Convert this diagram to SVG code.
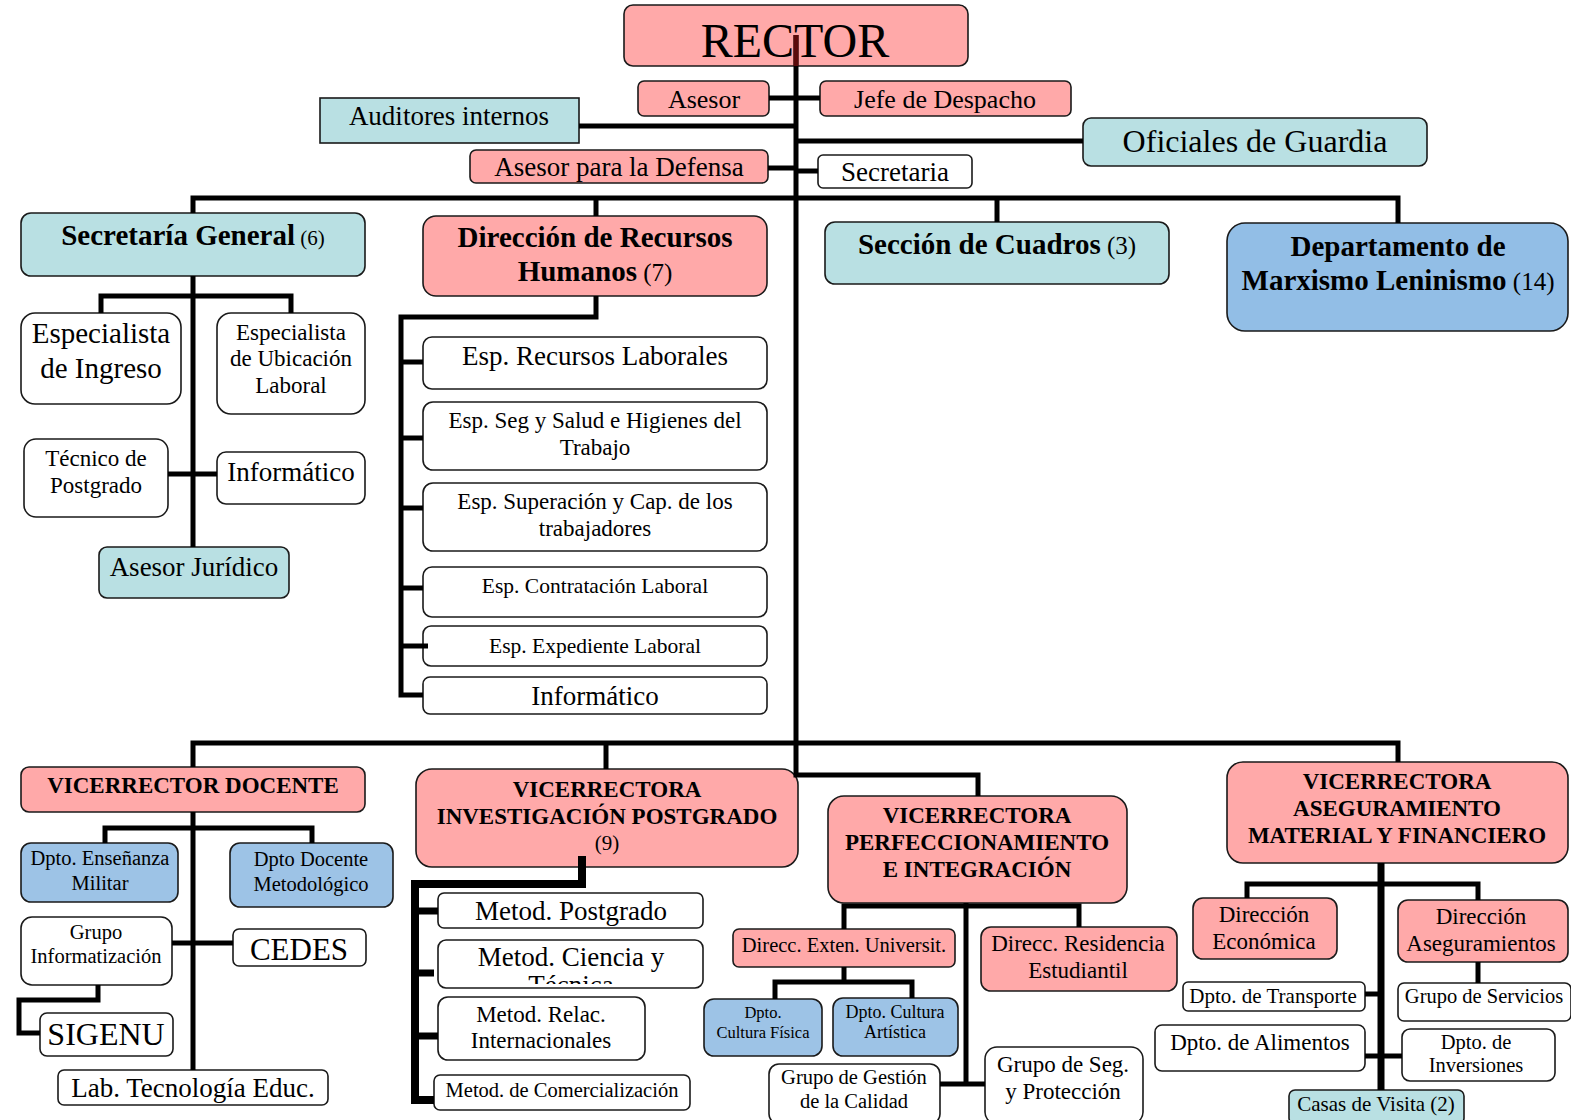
<svg xmlns="http://www.w3.org/2000/svg" width="1571" height="1120" viewBox="0 0 1571 1120">
<style>
text{font-family:"Liberation Serif","Times New Roman",serif;text-anchor:middle;fill:#000}
.b{font-weight:bold}
.n{font-weight:normal}
rect{stroke:#1a1a1a;stroke-width:1.6}
.pk{fill:#FFA9A9}
.tl{fill:#B9E0E3}
.bl{fill:#9DC3E6}
.bl2{fill:#92BEE6}
.wh{fill:#fff}
.c path{fill:none;stroke:#000;stroke-width:5;stroke-linejoin:miter}
</style>
<defs>
<clipPath id="clipCT"><rect x="438" y="940" width="265" height="44"/></clipPath>
</defs>
<rect width="1571" height="1120" fill="#fff" style="stroke:none"/>

<g id="rector"><rect class="pk" x="624" y="5" width="344" height="61" rx="9"/><text x="795" y="57" font-size="48">RECTOR</text></g>
<g id="asesor"><rect class="pk" x="638" y="81" width="131" height="35" rx="6"/><text x="704" y="108" font-size="26">Asesor</text></g>
<g id="jefe"><rect class="pk" x="820" y="81" width="251" height="35" rx="6"/><text x="945" y="108" font-size="26">Jefe de Despacho</text></g>
<g id="auditores"><rect class="tl" x="320" y="98" width="259" height="45" rx="0"/><text x="449" y="125" font-size="27">Auditores internos</text></g>
<g id="oficiales"><rect class="tl" x="1083" y="118" width="344" height="48" rx="8"/><text x="1255" y="152" font-size="32">Oficiales de Guardia</text></g>
<g id="asesordef"><rect class="pk" x="470" y="150" width="298" height="33" rx="6"/><text x="619" y="176" font-size="27">Asesor para la Defensa</text></g>
<g id="secretaria"><rect class="wh" x="818" y="155" width="154" height="33" rx="5"/><text x="895" y="181" font-size="27">Secretaria</text></g>

<g id="secgen"><rect class="tl" x="21" y="213" width="344" height="63" rx="10"/><text x="193" y="245" font-size="29"><tspan class="b">Secretaría General</tspan><tspan font-size="21"> (6)</tspan></text></g>
<g id="esping"><rect class="wh" x="21" y="313" width="160" height="91" rx="14"/><text x="101" y="343" font-size="29">Especialista</text><text x="101" y="378" font-size="29">de Ingreso</text></g>
<g id="espubi"><rect class="wh" x="217" y="313" width="148" height="101" rx="14"/><text x="291" y="340" font-size="23">Especialista</text><text x="291" y="366" font-size="23">de Ubicación</text><text x="291" y="393" font-size="23">Laboral</text></g>
<g id="tecpos"><rect class="wh" x="24" y="439" width="144" height="78" rx="12"/><text x="96" y="466" font-size="23">Técnico de</text><text x="96" y="493" font-size="23">Postgrado</text></g>
<g id="info1"><rect class="wh" x="217" y="452" width="148" height="52" rx="9"/><text x="291" y="481" font-size="27">Informático</text></g>
<g id="asejur"><rect class="tl" x="99" y="547" width="190" height="51" rx="8"/><text x="194" y="576" font-size="27">Asesor Jurídico</text></g>

<g id="drh"><rect class="pk" x="423" y="216" width="344" height="80" rx="13"/><text x="595" y="247" font-size="29" class="b">Dirección de Recursos</text><text x="595" y="281" font-size="29"><tspan class="b">Humanos</tspan><tspan font-size="25"> (7)</tspan></text></g>
<g id="esprl"><rect class="wh" x="423" y="337" width="344" height="52" rx="9"/><text x="595" y="365" font-size="27">Esp. Recursos Laborales</text></g>
<g id="espseg"><rect class="wh" x="423" y="402" width="344" height="68" rx="10"/><text x="595" y="428" font-size="23">Esp. Seg y Salud e Higienes del</text><text x="595" y="455" font-size="23">Trabajo</text></g>
<g id="espsup"><rect class="wh" x="423" y="483" width="344" height="68" rx="10"/><text x="595" y="509" font-size="23">Esp. Superación y Cap. de los</text><text x="595" y="536" font-size="23">trabajadores</text></g>
<g id="espcon"><rect class="wh" x="423" y="567" width="344" height="50" rx="9"/><text x="595" y="593" font-size="21.5">Esp. Contratación Laboral</text></g>
<g id="espexp"><rect class="wh" x="423" y="626" width="344" height="40" rx="8"/><text x="595" y="653" font-size="21.5">Esp. Expediente Laboral</text></g>
<g id="info2"><rect class="wh" x="423" y="677" width="344" height="37" rx="7"/><text x="595" y="705" font-size="27">Informático</text></g>

<g id="seccua"><rect class="tl" x="825" y="222" width="344" height="62" rx="10"/><text x="997" y="254" font-size="29"><tspan class="b">Sección de Cuadros</tspan><tspan font-size="25"> (3)</tspan></text></g>
<g id="dml"><rect class="bl2" x="1227" y="223" width="341" height="108" rx="18"/><text x="1398" y="256" font-size="29" class="b">Departamento de</text><text x="1398" y="290" font-size="29"><tspan class="b">Marxismo Leninismo</tspan><tspan font-size="25"> (14)</tspan></text></g>

<g id="vd"><rect class="pk" x="21" y="767" width="344" height="45" rx="8"/><text x="193" y="793" font-size="23" class="b">VICERRECTOR DOCENTE</text></g>
<g id="dem"><rect class="bl" x="21" y="843" width="157" height="59" rx="10"/><text x="100" y="865" font-size="20.5">Dpto. Enseñanza</text><text x="100" y="890" font-size="20.5">Militar</text></g>
<g id="ddm"><rect class="bl" x="230" y="843" width="163" height="64" rx="10"/><text x="311" y="866" font-size="20.5">Dpto Docente</text><text x="311" y="891" font-size="20.5">Metodológico</text></g>
<g id="ginf"><rect class="wh" x="21" y="917" width="151" height="68" rx="11"/><text x="96" y="939" font-size="20.5">Grupo</text><text x="96" y="963" font-size="20.5">Informatización</text></g>
<g id="cedes"><rect class="wh" x="233" y="929" width="133" height="37" rx="6"/><text x="299" y="960" font-size="31">CEDES</text></g>
<g id="sigenu"><rect class="wh" x="40" y="1013" width="133" height="43" rx="7"/><text x="106" y="1045" font-size="32">SIGENU</text></g>
<g id="labtec"><rect class="wh" x="58" y="1070" width="270" height="35" rx="6"/><text x="193" y="1097" font-size="27">Lab. Tecnología Educ.</text></g>

<g id="vip"><rect class="pk" x="416" y="769" width="382" height="98" rx="16"/><text x="607" y="797" font-size="23" class="b">VICERRECTORA</text><text x="607" y="824" font-size="23" class="b">INVESTIGACIÓN POSTGRADO</text><text x="607" y="850" font-size="21">(9)</text></g>
<g id="metpos"><rect class="wh" x="438" y="893" width="265" height="35" rx="6"/><text x="571" y="920" font-size="27">Metod. Postgrado</text></g>
<g id="metcyt"><rect class="wh" x="438" y="940" width="265" height="48" rx="8"/><g clip-path="url(#clipCT)"><text x="571" y="966" font-size="27">Metod. Ciencia y<tspan x="571" y="994">Técnica</tspan></text></g></g>
<g id="metrel"><rect class="wh" x="438" y="997" width="207" height="63" rx="10"/><text x="541" y="1022" font-size="23">Metod. Relac.</text><text x="541" y="1048" font-size="23">Internacionales</text></g>
<g id="metcom"><rect class="wh" x="434" y="1075" width="256" height="35" rx="6"/><text x="562" y="1097" font-size="20.5">Metod. de Comercialización</text></g>

<g id="vpi"><rect class="pk" x="828" y="796" width="299" height="107" rx="16"/><text x="977" y="823" font-size="23" class="b">VICERRECTORA</text><text x="977" y="850" font-size="23" class="b">PERFECCIONAMIENTO</text><text x="977" y="877" font-size="23" class="b">E INTEGRACIÓN</text></g>
<g id="deu"><rect class="pk" x="733" y="929" width="222" height="38" rx="6"/><text x="844" y="952" font-size="20.5">Direcc. Exten. Universit.</text></g>
<g id="dcf"><rect class="bl" x="704" y="999" width="118" height="57" rx="10"/><text x="763" y="1018" font-size="16.5">Dpto.</text><text x="763" y="1038" font-size="16.5">Cultura Física</text></g>
<g id="dca"><rect class="bl" x="833" y="998" width="125" height="58" rx="10"/><text x="895" y="1018" font-size="18">Dpto. Cultura</text><text x="895" y="1038" font-size="18">Artística</text></g>
<g id="dre"><rect class="pk" x="981" y="927" width="196" height="64" rx="10"/><text x="1078" y="951" font-size="23">Direcc. Residencia</text><text x="1078" y="978" font-size="23">Estudiantil</text></g>
<g id="ggc"><rect class="wh" x="769" y="1064" width="171" height="60" rx="10"/><text x="854" y="1084" font-size="20.5">Grupo de Gestión</text><text x="854" y="1108" font-size="20.5">de la Calidad</text></g>
<g id="gsp"><rect class="wh" x="985" y="1047" width="158" height="77" rx="12"/><text x="1063" y="1072" font-size="23">Grupo de Seg.</text><text x="1063" y="1099" font-size="23">y Protección</text></g>

<g id="vamf"><rect class="pk" x="1227" y="762" width="341" height="101" rx="16"/><text x="1397" y="789" font-size="23" class="b">VICERRECTORA</text><text x="1397" y="816" font-size="23" class="b">ASEGURAMIENTO</text><text x="1397" y="843" font-size="23" class="b">MATERIAL Y FINANCIERO</text></g>
<g id="decon"><rect class="pk" x="1193" y="898" width="144" height="61" rx="10"/><text x="1264" y="922" font-size="23">Dirección</text><text x="1264" y="949" font-size="23">Económica</text></g>
<g id="daseg"><rect class="pk" x="1398" y="900" width="170" height="62" rx="10"/><text x="1481" y="924" font-size="23">Dirección</text><text x="1481" y="951" font-size="23">Aseguramientos</text></g>
<g id="gserv"><rect class="wh" x="1398" y="983" width="173" height="38" rx="6"/><text x="1484" y="1003" font-size="20.5">Grupo de Servicios</text></g>
<g id="dtra"><rect class="wh" x="1183" y="982" width="182" height="29" rx="5"/><text x="1273" y="1003" font-size="21">Dpto. de Transporte</text></g>
<g id="dali"><rect class="wh" x="1155" y="1025" width="210" height="46" rx="7"/><text x="1260" y="1050" font-size="23">Dpto. de Alimentos</text></g>
<g id="dinv"><rect class="wh" x="1402" y="1029" width="153" height="52" rx="8"/><text x="1476" y="1049" font-size="20.5">Dpto. de</text><text x="1476" y="1072" font-size="20.5">Inversiones</text></g>
<g id="casas"><rect class="tl" x="1289" y="1090" width="175" height="34" rx="6"/><text x="1376" y="1111" font-size="21">Casas de Visita (2)</text></g>

<g id="connectors" class="c">
<path d="M796,35 V775 H978 V796" style="stroke:#000"/>
<path d="M796,35 V66" style="stroke:#5a0a0a"/>
<path d="M769,98 H820"/>
<path d="M579,126 H796"/>
<path d="M796,141 H1083"/>
<path d="M768,168 H796"/>
<path d="M796,171 H818"/>
<path d="M193,213 V198 H1398 V223"/>
<path d="M596,198 V216"/>
<path d="M997,198 V222"/>
<path d="M193,276 V547"/>
<path d="M101,313 V296 H291 V313"/>
<path d="M168,474 H217"/>
<path d="M596,296 V317 H401 V695 H423"/>
<path d="M401,362 H423 M401,438 H423 M401,508 H423 M401,588 H423 M401,646 H428"/>
<path d="M193,767 V743 H1398 V762"/>
<path d="M606,743 V769"/>
<path d="M193,812 V1070"/>
<path d="M105,843 V828 H312 V843"/>
<path d="M172,943 H233"/>
<path d="M98,985 V1000 H19 V1033 H40"/>
<path d="M582,856 V884 H415 V1100 H434" style="stroke-width:8"/>
<path d="M415,911 H438 M415,973 H434 M415,1036 H438" style="stroke-width:7"/>
<path d="M844,929 V906 H1079 V927"/>
<path d="M966,903 V1084"/>
<path d="M940,1084 H985"/>
<path d="M844,967 V982"/>
<path d="M775,999 V982 H912 V998"/>
<path d="M1381,863 V1090" style="stroke-width:7"/>
<path d="M1247,898 V884 H1478 V900"/>
<path d="M1478,962 V983"/>
<path d="M1365,994 H1381"/>
<path d="M1365,1056 H1402"/>
</g>
</svg>
